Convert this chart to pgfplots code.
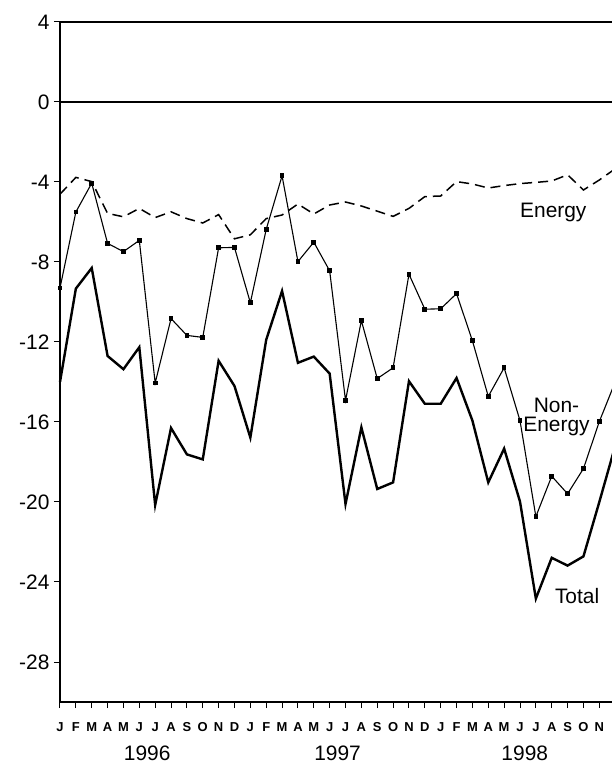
\documentclass[border=0pt]{standalone}
\usepackage{fontspec}
\setmainfont{Liberation Sans}
\usepackage{pgfplots}
\pgfplotsset{compat=1.18}

% month index 0 = Jan 1996
\pgfplotstableread{
m   total   nonenergy  energy
0   -14.00  -9.30   -4.61
1   -9.33   -5.50   -3.77
2   -8.30   -4.06   -3.98
3   -12.70  -7.07   -5.57
4   -13.36  -7.48   -5.74
5   -12.26  -6.92   -5.32
6   -20.15  -14.05  -5.78
7   -16.30  -10.83  -5.49
8   -17.62  -11.67  -5.83
9   -17.87  -11.77  -6.05
10  -12.94  -7.29   -5.63
11  -14.20  -7.27   -6.84
12  -16.78  -10.04  -6.64
13  -11.89  -6.37   -5.83
14  -9.45   -3.69   -5.65
15  -13.04  -7.98   -5.10
16  -12.73  -7.01   -5.60
17  -13.58  -8.44   -5.15
18  -20.10  -14.92  -5.00
19  -16.27  -10.93  -5.20
20  -19.35  -13.83  -5.46
21  -19.02  -13.29  -5.72
22  -13.96  -8.61   -5.32
23  -15.09  -10.36  -4.73
24  -15.09  -10.34  -4.70
25  -13.80  -9.58   -3.98
26  -15.93  -11.94  -4.10
27  -19.02  -14.72  -4.30
28  -17.33  -13.29  -4.18
29  -19.98  -15.93  -4.08
30  -24.83  -20.73  -4.02
31  -22.79  -18.71  -3.95
32  -23.18  -19.59  -3.64
33  -22.72  -18.33  -4.40
34  -20.00  -15.98  -3.90
35  -17.20  -14.00  -3.34
}\trade

\begin{document}
\begin{tikzpicture}
  \begin{axis}[
      at={(0,0)}, anchor=south west,
      scale only axis,
      width=552bp, height=680bp,
      xmin=0, xmax=34.8,
      ymin=-30, ymax=4,
      clip=false,
      axis x line*=bottom,
      axis y line*=left,
      axis line style={line width=1.4bp},
      tick align=outside,
      major tick length=6bp,
      tick style={black, line width=1bp},
      ytick={4,0,-4,-8,-12,-16,-20,-24,-28},
      yticklabel style={font=\fontsize{21}{21}\selectfont, xshift=-1bp},
      /pgf/number format/assume math mode=true,
      xtick={0,...,35},
      xticklabels={J,F,M,A,M,J,J,A,S,O,N,D,J,F,M,A,M,J,J,A,S,O,N,D,J,F,M,A,M,J,J,A,S,O,N,D},
      xticklabel style={font=\bfseries\fontsize{13}{13}\selectfont, yshift=-11bp},
      extra x ticks={5.5,17.5,29.3},
      extra x tick labels={1996,1997,1998},
      extra x tick style={major tick length=0pt,
        xticklabel style={font=\mdseries\fontsize{21}{21}\selectfont, yshift=-29bp}},
    ]
    \draw[line width=1.3bp] (axis cs:0,4) -- (axis cs:36,4);
    \draw[line width=1.3bp] (axis cs:0,0) -- (axis cs:36,0);

    \addplot[black, line width=2.4bp, line join=miter] table[x=m, y=total] {\trade};
    \addplot[black, line width=1.1bp, mark=square*, mark size=1.8bp] table[x=m, y=nonenergy] {\trade};
    \addplot[black, line width=1.5bp, dash pattern=on 10bp off 6bp] table[x=m, y=energy] {\trade};

    \node[font=\fontsize{21}{21}\selectfont] at (axis cs:31.1,-5.5) {Energy};
    \node[font=\fontsize{21}{19}\selectfont, align=center] at (axis cs:31.3,-15.75) {Non-\\Energy};
    \node[font=\fontsize{21}{21}\selectfont] at (axis cs:32.6,-24.7) {Total};
  \end{axis}
  \pgfresetboundingbox
  \path[use as bounding box] (-60bp,-63bp) rectangle (552bp,702bp);
\end{tikzpicture}
\end{document}
